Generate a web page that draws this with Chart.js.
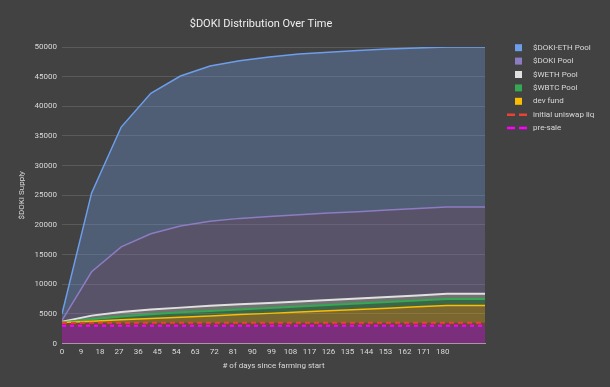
<!DOCTYPE html>
<html>
<head>
<meta charset="utf-8">
<script src="https://cdn.jsdelivr.net/npm/chart.js@4.4.0/dist/chart.umd.min.js"></script>
<style>
    body { margin: 0; background: #424242; }
    canvas { display: block; }
</style>
</head>
<body>
<canvas id="dokiChart" width="610" height="387"></canvas>
<script>
    // days since farming start (x values)
    var days = [0, 14, 28, 42, 56, 70, 84, 98, 112, 126, 140, 154, 168, 182, 200];
    var xTicks = [0, 9, 18, 27, 36, 45, 54, 63, 72, 81, 90, 99, 108, 117, 126, 135, 144, 153, 162, 171, 180];

    // stacked series, bottom to top (each is the amount added on top of the one below)
    var preSale     = [3000, 3000, 3000, 3000, 3000, 3000, 3000, 3000, 3000, 3000, 3000, 3000, 3000, 3000, 3000];
    var uniswapLiq  = [500, 500, 500, 500, 500, 500, 500, 500, 500, 500, 500, 500, 500, 500, 500];
    var devFund     = [50, 270, 490, 710, 930, 1150, 1370, 1580, 1800, 2020, 2240, 2460, 2680, 2900, 2900];
    var wbtcPool    = [50, 330, 560, 740, 820, 850, 880, 920, 950, 980, 1010, 1040, 1070, 1100, 1100];
    var wethPool    = [50, 600, 750, 800, 800, 850, 850, 850, 850, 850, 850, 850, 850, 900, 900];
    var dokiPool    = [250, 7400, 11000, 12750, 13750, 14250, 14500, 14550, 14600, 14650, 14600, 14650, 14650, 14600, 14600];
    var dokiEthPool = [1100, 13300, 20200, 23700, 25300, 26200, 26600, 26900, 27100, 27100, 27200, 27150, 27100, 27000, 27000];

    function pts(values) {
        return values.map(function (v, i) { return { x: days[i], y: v }; });
    }

    var textColor = '#d9d9d9';

    // legend drawn like the sheets one: top series first
    var sideLegend = {
        id: 'sideLegend',
        afterDraw: function (chart) {
            var c = chart.ctx;
            var sets = chart.data.datasets.slice().reverse();
            c.save();
            c.font = '8px Roboto';
            c.textBaseline = 'middle';
            sets.forEach(function (ds, i) {
                var y = 47.7 + i * 13.4;
                if (ds.borderDash) {
                    c.strokeStyle = ds.borderColor;
                    c.lineWidth = 2.5;
                    c.beginPath();
                    c.moveTo(507, y); c.lineTo(515, y);
                    c.moveTo(519, y); c.lineTo(527, y);
                    c.stroke();
                } else {
                    c.fillStyle = ds.borderColor;
                    c.fillRect(515, y - 3.5, 7, 7);
                }
                c.fillStyle = textColor;
                c.fillText(ds.label, 533, y);
            });
            c.font = '11px Roboto';
            c.fillStyle = '#eeeeee';
            c.textAlign = 'center';
            c.fillText('$DOKI Distribution Over Time', 261, 24);
            c.restore();
        }
    };

    var ctx = document.getElementById('dokiChart').getContext('2d');
    var dokiChart = new Chart(ctx, {
        type: 'line',
        data: {
            datasets: [{
                label: 'pre-sale',
                data: pts(preSale),
                borderColor: '#ff00ff',
                backgroundColor: 'rgba(255, 0, 255, 0.3)',
                borderDash: [4, 4],
                borderWidth: 2,
                fill: 'origin'
            }, {
                label: 'initial uniswap liq',
                data: pts(uniswapLiq),
                borderColor: '#ea4335',
                backgroundColor: 'rgba(234, 67, 53, 0.3)',
                borderDash: [5, 4],
                borderWidth: 2,
                fill: '-1'
            }, {
                label: 'dev fund',
                data: pts(devFund),
                borderColor: '#fbbc04',
                backgroundColor: 'rgba(251, 188, 4, 0.3)',
                borderWidth: 1.5,
                fill: '-1'
            }, {
                label: '$WBTC Pool',
                data: pts(wbtcPool),
                borderColor: '#34a853',
                backgroundColor: 'rgba(52, 168, 83, 0.35)',
                borderWidth: 2,
                fill: '-1'
            }, {
                label: '$WETH Pool',
                data: pts(wethPool),
                borderColor: '#e0e0e0',
                backgroundColor: 'rgba(224, 224, 224, 0.3)',
                borderWidth: 2,
                fill: '-1'
            }, {
                label: '$DOKI Pool',
                data: pts(dokiPool),
                borderColor: '#8e7cc3',
                backgroundColor: 'rgba(142, 124, 195, 0.3)',
                borderWidth: 1.5,
                fill: '-1'
            }, {
                label: '$DOKI-ETH Pool',
                data: pts(dokiEthPool),
                borderColor: '#6d9eeb',
                backgroundColor: 'rgba(109, 158, 235, 0.3)',
                borderWidth: 1.5,
                fill: '-1'
            }]
        },
        options: {
            responsive: false,
            animation: false,
            layout: { padding: { top: 47, right: 125, left: 0, bottom: 0 } },
            elements: { point: { radius: 0 }, line: { tension: 0 } },
            plugins: {
                legend: { display: false },
                tooltip: { enabled: false }
            },
            scales: {
                x: {
                    type: 'linear',
                    min: 0,
                    max: 200,
                    z: 1,
                    afterBuildTicks: function (s) {
                        s.ticks = xTicks.map(function (v) { return { value: v }; });
                    },
                    afterFit: function (s) { s.height = 43.5; },
                    grid: { display: false, drawTicks: false },
                    border: { color: '#a0a0a0', width: 1 },
                    ticks: {
                        color: textColor,
                        font: { size: 8, family: 'Roboto' },
                        padding: 4,
                        maxRotation: 0,
                        autoSkip: false,
                        callback: function (v) { return String(v); }
                    },
                    title: {
                        display: true,
                        text: '# of days since farming start',
                        color: textColor,
                        font: { size: 8, family: 'Roboto' },
                        padding: { bottom: 16, top: 0 }
                    }
                },
                y: {
                    stacked: true,
                    min: 0,
                    max: 50000,
                    afterFit: function (s) { s.width = 62; },
                    grid: { color: '#5a5a5a', drawTicks: false },
                    border: { display: false },
                    ticks: {
                        stepSize: 5000,
                        color: textColor,
                        font: { size: 8, family: 'Roboto' },
                        padding: 5,
                        callback: function (v) { return String(v); }
                    },
                    title: {
                        display: true,
                        text: '$DOKI Supply',
                        color: textColor,
                        font: { size: 8, family: 'Roboto' },
                        padding: { top: 17, bottom: 0 }
                    }
                }
            }
        },
        plugins: [sideLegend]
    });
</script>
</body>
</html>
